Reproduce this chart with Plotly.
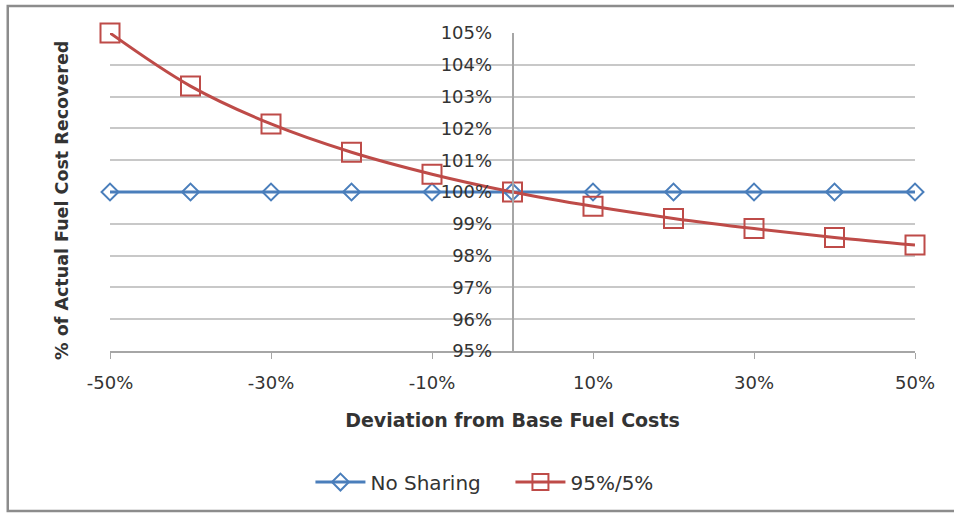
import plotly.graph_objects as go

deviation = [-50, -40, -30, -20, -10, 0, 10, 20, 30, 40, 50]
no_sharing = [100, 100, 100, 100, 100, 100, 100, 100, 100, 100, 100]
sharing_95_5 = [105.0, 103.33, 102.14, 101.25, 100.56, 100.0, 99.55, 99.17, 98.85, 98.57, 98.33]

x_tickvals = [-50, -30, -10, 10, 30, 50]
x_ticktext = ["-50%", "-30%", "-10%", "10%", "30%", "50%"]
y_tickvals = [95, 96, 97, 98, 99, 100, 101, 102, 103, 104, 105]
y_ticktext = ["95%", "96%", "97%", "98%", "99%", "100%", "101%", "102%", "103%", "104%", "105%"]

FONT = "DejaVu Sans"
TXT = "#333333"

fig = go.Figure()
fig.add_trace(go.Scatter(
    x=deviation, y=no_sharing, name="No Sharing", mode="lines+markers",
    line=dict(color="#4A7EBB", width=3),
    marker=dict(symbol="diamond-open", size=13, color="#4A7EBB", line=dict(width=2)),
    cliponaxis=False,
))
fig.add_trace(go.Scatter(
    x=deviation, y=sharing_95_5, name="95%/5%", mode="lines+markers",
    line=dict(color="#BE4B48", width=3, shape="spline"),
    marker=dict(symbol="square-open", size=19, color="#BE4B48", line=dict(width=2)),
    cliponaxis=False,
))

fig.update_layout(
    width=954, height=514,
    margin=dict(l=110, r=39, t=33, b=163),
    paper_bgcolor="white", plot_bgcolor="white",
    font=dict(family=FONT, size=18, color=TXT),
    showlegend=True,
    legend=dict(orientation="h", x=0.249, xanchor="left", y=-0.412, yanchor="middle",
                font=dict(family=FONT, size=20, color=TXT), itemwidth=50,
                entrywidth=135, bgcolor="rgba(0,0,0,0)"),
    xaxis=dict(range=[-50, 50], tickvals=x_tickvals, ticktext=x_ticktext,
               showgrid=False, zeroline=False, showline=True, linecolor="#A6A6A6", linewidth=2,
               ticks="outside", ticklen=6, tickcolor="#A6A6A6", ticklabelstandoff=8,
               tickfont=dict(family=FONT, size=18, color=TXT),
               title=dict(text="<b>Deviation from Base Fuel Costs</b>", standoff=22,
                          font=dict(family=FONT, size=19, color=TXT))),
    yaxis=dict(range=[95, 105], tickvals=y_tickvals, ticktext=y_ticktext,
               anchor="free", position=0.5,
               showgrid=True, gridcolor="#C8C8C8", gridwidth=2, zeroline=False,
               showline=True, linecolor="#A6A6A6", linewidth=1.5,
               ticks="", ticklabelstandoff=16,
               tickfont=dict(family=FONT, size=18, color=TXT)),
    shapes=[dict(type="rect", xref="paper", yref="paper",
                 x0=-0.127, x1=1.055, y0=-0.503, y1=1.085,
                 line=dict(color="#8C8C8C", width=2.5), layer="below")],
    annotations=[dict(text="<b>% of Actual Fuel Cost Recovered</b>", xref="paper", yref="paper",
                      x=-0.0596, y=0.472, xanchor="center", yanchor="middle",
                      textangle=-90, showarrow=False,
                      font=dict(family=FONT, size=17.5, color=TXT))],
)

fig.write_html("out.html", config={"displayModeBar": False},
               post_script="document.body.style.margin='0';")
